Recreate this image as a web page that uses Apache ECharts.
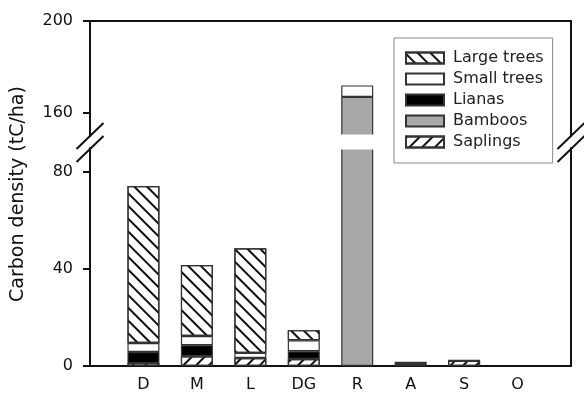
<!DOCTYPE html>
<html><head><meta charset="utf-8">
<script src="https://cdn.jsdelivr.net/npm/echarts@6/dist/echarts.min.js"></script>
<style>html,body{margin:0;padding:0;background:#fff}#c{width:584px;height:398px}</style>
</head><body><div id="c"></div>
<script>
// ---- data ----
const categories = ['D', 'M', 'L', 'DG', 'R', 'A', 'S', 'O'];
const saplings   = [1.2, 4.0, 3.3, 2.9, 0, 0.8, 2.1, 0];
const bamboos    = [0, 0, 0, 0, 167, 0, 0, 0];
const lianas     = [4.6, 4.6, 0, 3.2, 0, 0, 0, 0];
const smallTrees = [3.7, 3.8, 2.1, 4.5, 5, 1.0, 0.5, 0];
const largeTrees = [64.8, 29.3, 43.2, 4.2, 0, 0, 0, 0];
const upperTicks = [160, 200];
const lowerTicks = [0, 40, 80];
const legendOrder = ['Large trees', 'Small trees', 'Lianas', 'Bamboos', 'Saplings'];
const yTitle = 'Carbon density (tC/ha)';

// ---- layout ----
const FONT = 'DejaVu Sans';
const W = 584;
const G1 = {left: 90, right: 13, top: 21, height: 115};
const G2 = {left: 90, right: 13, top: 148, height: 218};
const upperRange = [150, 200];
const lowerRange = [0, 90];
const INK = '#111';

const xCats = [''].concat(categories, ['']);
const pad = arr => ['-'].concat(arr.map(v => (v === 0 ? '-' : v)), ['-']);
const hatch = rot => ({symbol: 'rect', symbolSize: 1, dashArrayX: [1, 0], dashArrayY: [1.8, 6.6], rotation: rot, color: INK});

const defs = [
  {name: 'Saplings', data: saplings, color: '#fff', decal: hatch(-Math.PI / 4)},
  {name: 'Bamboos', data: bamboos, color: '#a8a8a8'},
  {name: 'Lianas', data: lianas, color: '#000'},
  {name: 'Small trees', data: smallTrees, color: '#fff'},
  {name: 'Large trees', data: largeTrees, color: '#fff', decal: hatch(Math.PI / 4)}
];

const series = [];
[0, 1].forEach(g => {
  defs.forEach(d => {
    const itemStyle = {color: d.color, borderColor: '#333', borderWidth: 1.2};
    if (d.decal) itemStyle.decal = d.decal;
    series.push({
      type: 'bar', name: d.name, stack: 's' + g, data: pad(d.data),
      xAxisIndex: g, yAxisIndex: g === 0 ? 0 : 2, barWidth: 32, clip: true,
      itemStyle: itemStyle, emphasis: {disabled: true}, animation: false
    });
  });
});

const lineStyle = {color: INK, width: 2};
const labelStyle = {fontFamily: FONT, fontSize: 16, color: INK};

function valAxis(g, range, ticks, pos, main) {
  return {
    type: 'value', gridIndex: g, position: pos, min: range[0], max: range[1],
    axisLine: {show: true, lineStyle: lineStyle},
    axisTick: main ? {show: true, length: 7, inside: false, lineStyle: lineStyle, customValues: ticks} : {show: false},
    axisLabel: main ? Object.assign({show: true, margin: 17, customValues: ticks}, labelStyle) : {show: false},
    splitLine: {show: false}
  };
}

const xL = G1.left, xR = W - G1.right, yB1 = G1.top + G1.height, yT2 = G2.top;
const graphic = [
  {type: 'rect', shape: {x: xL + 2, y: yB1 - 1.5, width: xR - xL - 4, height: yT2 - yB1 + 3}, style: {fill: '#fff'}, z: 3}
];
[xL, xR].forEach(x => {
  [yB1, yT2 + 1].forEach(y => {
    graphic.push({type: 'line', shape: {x1: x - 13.5, y1: y + 13, x2: x + 13.5, y2: y - 13}, style: {stroke: INK, lineWidth: 2}, z: 10});
  });
});
graphic.push({
  type: 'text', x: 18.5, y: 194, rotation: Math.PI / 2, z: 10,
  style: {text: yTitle, fontFamily: FONT, fontSize: 19, fill: INK, align: 'center', verticalAlign: 'middle'}
});

const chart = echarts.init(document.getElementById('c'), null, {renderer: 'canvas'});
chart.setOption({
  animation: false,
  backgroundColor: '#fff',
  grid: [G1, G2],
  xAxis: [
    {type: 'category', gridIndex: 0, data: xCats, boundaryGap: false, position: 'top',
     axisLine: {show: true, onZero: false, lineStyle: lineStyle}, axisTick: {show: false}, axisLabel: {show: false}},
    {type: 'category', gridIndex: 1, data: xCats, boundaryGap: false, position: 'bottom',
     axisLine: {show: true, onZero: false, lineStyle: lineStyle}, axisTick: {show: false},
     axisLabel: Object.assign({show: true, interval: 0, margin: 11}, labelStyle)}
  ],
  yAxis: [
    valAxis(0, upperRange, upperTicks, 'left', true),
    valAxis(0, upperRange, upperTicks, 'right', false),
    valAxis(1, lowerRange, lowerTicks, 'left', true),
    valAxis(1, lowerRange, lowerTicks, 'right', false)
  ],
  legend: {
    data: legendOrder, orient: 'vertical', left: 394, top: 38, padding: [12, 9, 13, 11],
    itemWidth: 38, itemHeight: 11, itemGap: 5, icon: 'rect', selectedMode: false,
    borderColor: '#888', borderWidth: 1, backgroundColor: '#fff',
    textStyle: {fontFamily: FONT, fontSize: 16, color: '#222', padding: [0, 0, 0, 4]}
  },
  graphic: graphic,
  series: series
});
</script></body></html>
